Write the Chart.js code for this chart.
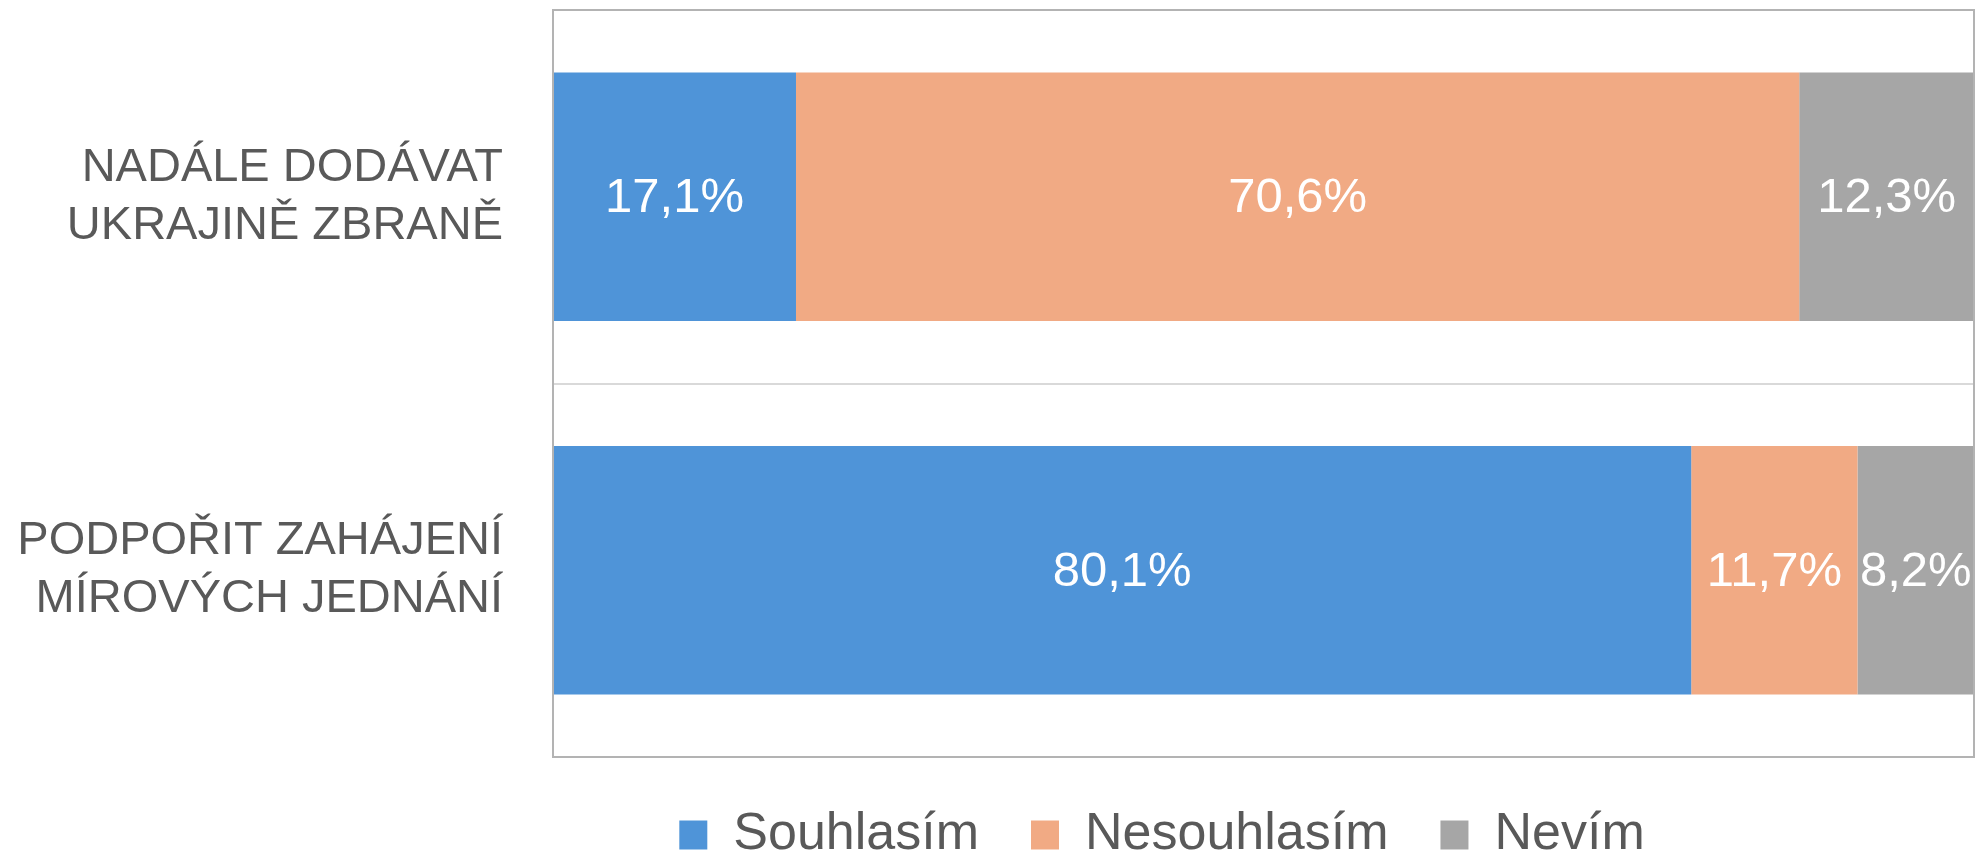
<!DOCTYPE html>
<html>
<head>
<meta charset="utf-8">
<script src="https://cdn.jsdelivr.net/npm/chart.js@4"></script>
<style>
  html, body { margin: 0; padding: 0; background: #fff; }
  #wrap { width: 1980px; height: 850px; }
</style>
</head>
<body>
<div id="wrap"><canvas id="chart"></canvas></div>
<script>
const categories = [
    ['NADÁLE DODÁVAT', 'UKRAJINĚ ZBRANĚ'],
    ['PODPOŘIT ZAHÁJENÍ', 'MÍROVÝCH JEDNÁNÍ']
];
const seriesNames = ['Souhlasím', 'Nesouhlasím', 'Nevím'];
const souhlasim = [17.1, 80.1];
const nesouhlasim = [70.6, 11.7];
const nevim = [12.3, 8.2];
const colors = ['#4F94D8', '#F1AA84', '#A6A6A6'];

// labels inside the bars, written with a decimal comma
const valueLabels = {
    id: 'valueLabels',
    afterDatasetsDraw(chart) {
        const ctx = chart.ctx;
        ctx.save();
        ctx.font = '49px "Liberation Sans", Arial, sans-serif';
        ctx.fillStyle = '#ffffff';
        ctx.textAlign = 'center';
        ctx.textBaseline = 'middle';
        chart.data.datasets.forEach((ds, i) => {
            chart.getDatasetMeta(i).data.forEach((bar, j) => {
                const txt = ds.data[j].toFixed(1).replace('.', ',') + '%';
                ctx.fillText(txt, (bar.x + bar.base) / 2, bar.y + 2);
            });
        });
        ctx.restore();
    }
};

// grey frame around the plot area
const plotFrame = {
    id: 'plotFrame',
    afterDraw(chart) {
        const a = chart.chartArea;
        const ctx = chart.ctx;
        ctx.save();
        ctx.strokeStyle = '#b3b3b3';
        ctx.lineWidth = 2;
        ctx.strokeRect(a.left, a.top, a.right - a.left, a.bottom - a.top);
        ctx.restore();
    }
};

// the legend sits a bit right of the canvas centre in the original
const legendShift = {
    id: 'legendShift',
    afterLayout(chart) {
        const lg = chart.legend;
        lg.left = 350;
        lg.width = lg.right - lg.left;
    }
};

const ctx = document.getElementById('chart').getContext('2d');
new Chart(ctx, {
    type: 'bar',
    data: {
        labels: categories,
        datasets: [souhlasim, nesouhlasim, nevim].map((vals, i) => ({
            label: seriesNames[i],
            data: vals,
            backgroundColor: colors[i],
            borderWidth: 0,
            barPercentage: 0.665,
            categoryPercentage: 1
        }))
    },
    options: {
        indexAxis: 'y',
        responsive: true,
        maintainAspectRatio: false,
        animation: false,
        layout: { padding: { top: 10, right: 6, left: 0, bottom: -21 } },
        scales: {
            x: {
                stacked: true,
                min: 0,
                max: 100,
                display: false
            },
            y: {
                stacked: true,
                grid: { color: '#d9d9d9', lineWidth: 2, offset: true, drawTicks: false },
                border: { display: false },
                ticks: {
                    color: '#595959',
                    font: { family: '"Liberation Sans", Arial, sans-serif', size: 47, lineHeight: 1.24 },
                    padding: 50,
                    autoSkip: false
                },
                afterFit(scale) {
                    scale.width = 553;
                    scale.paddingTop = 0;
                    scale.paddingBottom = 0;
                }
            }
        },
        plugins: {
            legend: {
                position: 'bottom',
                labels: {
                    color: '#595959',
                    font: { family: '"Liberation Sans", Arial, sans-serif', size: 52 },
                    boxWidth: 28,
                    boxHeight: 29,
                    padding: 52
                }
            },
            tooltip: { enabled: false }
        }
    },
    plugins: [valueLabels, plotFrame, legendShift]
});
</script>
</body>
</html>
